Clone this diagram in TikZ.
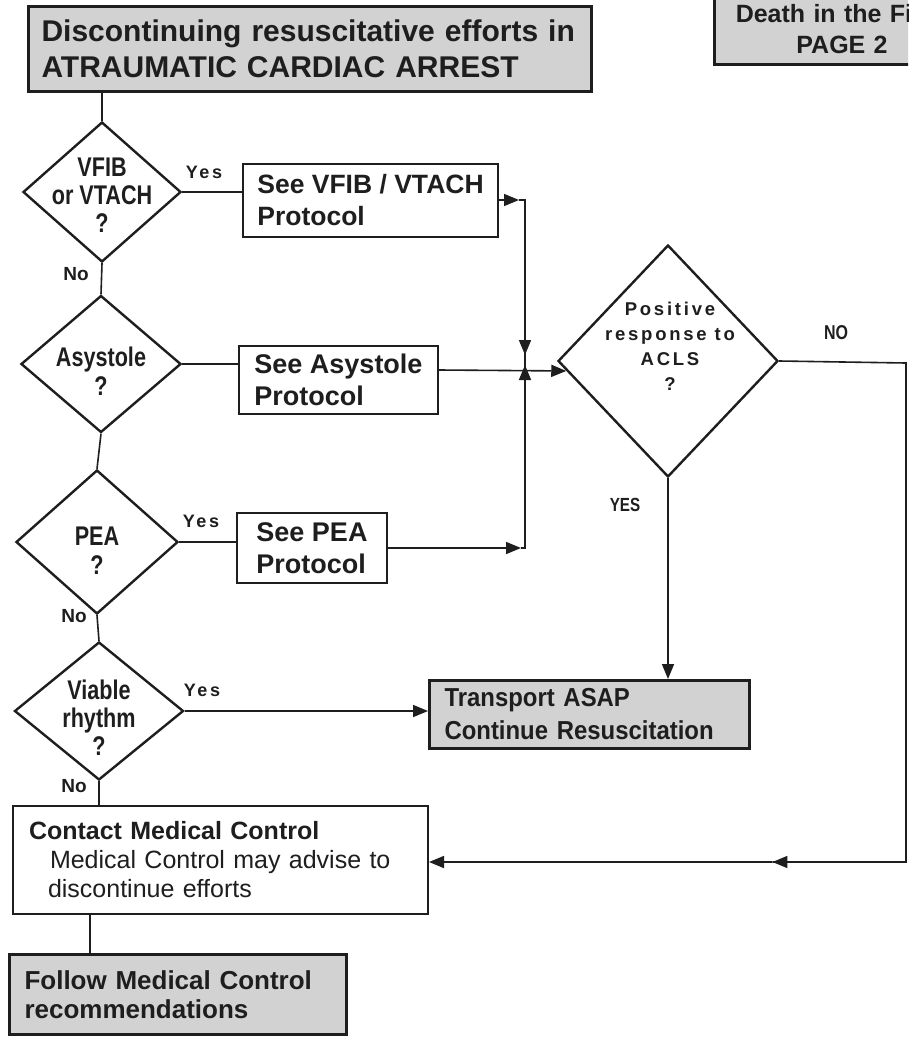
\documentclass[tikz,border=0pt]{standalone}
\usepackage{fontspec}
\setmainfont{Liberation Sans}
\newfontfamily\narrowfont[FakeStretch=0.8]{Liberation Sans}
\newfontfamily\slimfont[FakeStretch=0.92]{Liberation Sans}
\newfontfamily\spacedfont[LetterSpace=15]{Liberation Sans}
\usetikzlibrary{shapes.geometric, arrows.meta, calc}

\definecolor{ink}{HTML}{1E1E1E}
\definecolor{boxgrey}{HTML}{D2D2D2}

\tikzset{
  conn/.style={draw=ink, line width=1.6pt},
  arr/.style={-{Triangle[length=15pt,width=12pt]}},
  dia/.style={diamond, draw=ink, line width=2.4pt, inner sep=0pt},
  dtext/.style={font=\narrowfont\bfseries\fontsize{27}{28}\selectfont, align=center, text=ink},
  acls/.style={font=\spacedfont\bfseries\fontsize{18.5}{25}\selectfont, align=center, text=ink},
  yes/.style={font=\spacedfont\bfseries\fontsize{18}{20}\selectfont, text=ink},
  nolabel/.style={font=\bfseries\fontsize{19}{20}\selectfont, text=ink},
  box/.style={draw=ink, line width=2pt, inner ysep=0pt, inner xsep=15pt, align=left,
    anchor=north west, text=ink, font=\bfseries\fontsize{27}{32}\selectfont},
  protocol/.style={box, inner xsep=0pt},
  greybox/.style={box, fill=boxgrey, line width=3pt},
}

\begin{document}
\begin{tikzpicture}[x=1pt, y=-1pt]
\clip (0,0) rectangle (908,1038);
\fill[white] (0,0) rectangle (908,1038);

% headers
\node[greybox, inner xsep=13pt, text width=537pt, minimum height=85pt, font=\bfseries\fontsize{30}{36}\selectfont]
  (title) at (27,5) {Discontinuing resuscitative efforts in\\ATRAUMATIC CARDIAC ARREST};
\node[greybox, anchor=center, align=center, text width=226pt, minimum height=72pt,
  font=\bfseries\fontsize{25}{31}\selectfont] (page) at (842,29) {Death in the Field\\PAGE 2};

% decision diamonds
\node[dia, minimum width=158pt, minimum height=140pt] (d1) at (102,192) {};
\node[dtext] (d1t) at (102,195) {VFIB\\or VTACH\\?};
\node[dia, minimum width=160pt, minimum height=137pt] (d2) at (101,364) {};
\node[dtext, font=\narrowfont\bfseries\fontsize{27}{29}\selectfont] (d2t) at (101,371) {Asystole\\?};
\node[dia, minimum width=162pt, minimum height=144pt] (d3) at (97,542) {};
\node[dtext, font=\narrowfont\bfseries\fontsize{27}{29}\selectfont] (d3t) at (97,551) {PEA\\?};
\node[dia, minimum width=169pt, minimum height=138pt] (d4) at (99,711) {};
\node[dtext] (d4t) at (99,718) {Viable\\rhythm\\?};
\node[dia, minimum width=220pt, minimum height=232pt] (d5) at (668,361) {};
\node[acls] (d5t) at (670,346) {Positive\\response to\\ACLS\\?};

% action boxes
\node[protocol, minimum width=255pt, minimum height=73pt, font=\bfseries\fontsize{26.5}{32}\selectfont]
  (b1) at (242,163) {See VFIB / VTACH\\Protocol};
\node[protocol, minimum width=199pt, minimum height=68pt] (b2) at (238,345) {See Asystole\\Protocol};
\node[protocol, minimum width=150pt, minimum height=70pt] (b3) at (236,512) {See PEA\\Protocol};
\node[greybox, text width=290pt, minimum height=68pt, font=\slimfont\bfseries\fontsize{26}{33}\selectfont]
  (tr) at (428,679) {Transport ASAP\\Continue Resuscitation};
\node[box, inner xsep=16pt, text width=383pt, minimum height=108pt, font=\fontsize{25}{29}\selectfont]
  (mc) at (12,805) {\textbf{Contact Medical Control}\\\hspace*{21pt}Medical Control may advise to\\\hspace*{19pt}discontinue efforts};
\node[greybox, text width=307pt, minimum height=80pt, font=\bfseries\fontsize{26}{29}\selectfont]
  (fm) at (8,953) {Follow Medical Control\\recommendations};

% branch labels
\node[yes] (y1) at (204,172) {Yes};
\node[nolabel] (n1) at (76,274) {No};
\node[yes] (y3) at (201,521) {Yes};
\node[nolabel] (n3) at (74,616) {No};
\node[yes] (y4) at (202,690) {Yes};
\node[nolabel] (n4) at (74,786) {No};
\node[font=\narrowfont\bfseries\fontsize{20}{20}\selectfont, text=ink] (no5) at (836,333) {NO};
\node[font=\narrowfont\bfseries\fontsize{19}{20}\selectfont, text=ink] (yes5) at (625,505) {YES};

% routing points
\coordinate (c1) at (525,200);
\coordinate (j) at (525,370);
\coordinate (c3) at (525,548);
\coordinate (r1) at (906,363);
\coordinate (r2) at (906,862);

% main column
\draw[conn] (title.south -| d1.north) -- (d1.north);
\draw[conn] (d1.south) -- (d2.north);
\draw[conn] (d2.south) -- (d3.north);
\draw[conn] (d3.south) -- (d4.north);
\draw[conn] (d4.south) -- (d4.south |- mc.north);
\draw[conn] (mc.south -| 90,0) -- (fm.north -| 90,0);

% protocol branches
\draw[conn] (d1.east) -- (d1.east -| b1.west);
\draw[conn] (d2.east) -- (d2.east -| b2.west);
\draw[conn] (d3.east) -- (d3.east -| b3.west);

\draw[conn, arr] (b1.east |- c1) -- ($(c1)+(-6,0)$);
\draw[conn] ($(c1)+(-6,0)$) -- (c1) -- (j);
\draw[conn, arr] (c1) -- ($(j)+(0,-15)$);
\draw[conn, arr] (b3.east |- c3) -- ($(c3)+(-4,0)$);
\draw[conn] ($(c3)+(-4,0)$) -- (c3) -- (j);
\draw[conn, arr] (c3) -- ($(j)+(0,-5)$);
\draw[conn, arr] (b2.east |- j) -- ($(d5.west)!0.085!(d5.south)$);

% outcomes
\draw[conn, arr] (d4.east) -- (d4.east -| tr.west);
\draw[conn, arr] (d5.south) -- (d5.south |- tr.north);
\draw[conn] (d5.east) -- (r1) -- (r2) -- ($(r2)!0.28!(r2 -| mc.east)$);
\draw[conn, arr] (r2) -- ($(r2)!0.28!(r2 -| mc.east)$);
\draw[conn, arr] ($(r2)!0.28!(r2 -| mc.east)$) -- (r2 -| mc.east);
\end{tikzpicture}
\end{document}
